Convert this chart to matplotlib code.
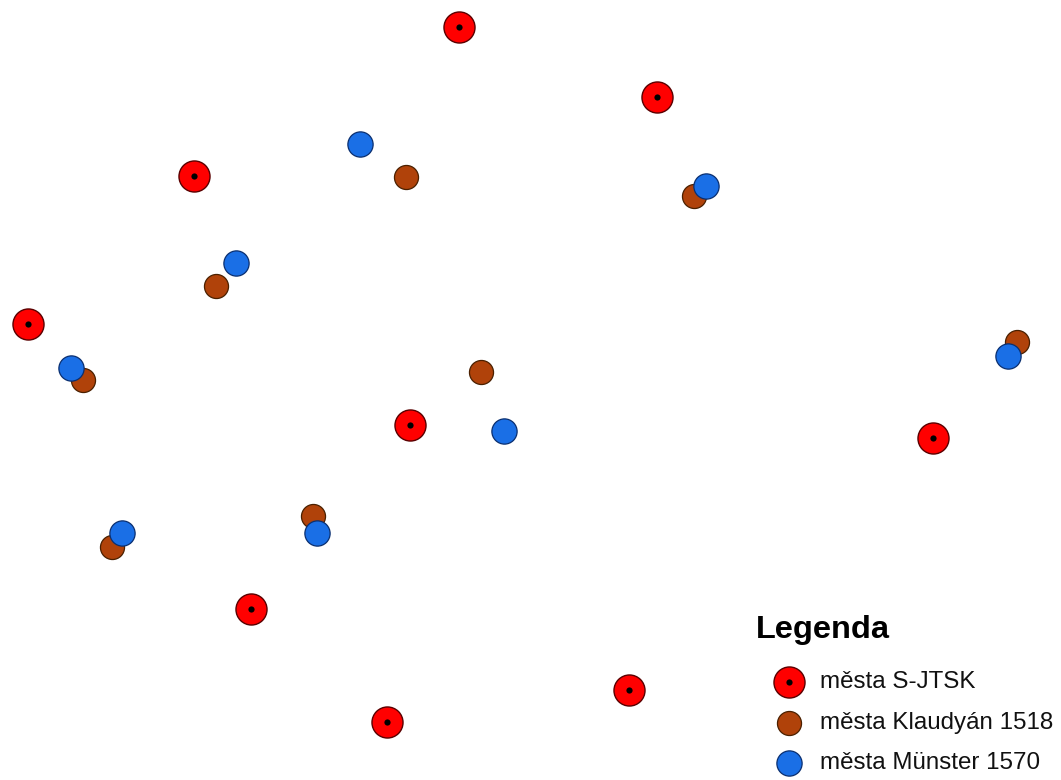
import matplotlib.pyplot as plt

plt.rcParams['font.family'] = ['Liberation Sans', 'DejaVu Sans']

# map coordinates (image-like, y grows downward)
sjtsk_x = [459, 657, 194, 28, 410, 933, 251, 629, 387]
sjtsk_y = [27, 97, 176, 324, 425, 438, 609, 690, 722]

klaudyan_x = [406, 694, 216, 83, 481, 1017, 313, 112]
klaudyan_y = [177, 196, 286, 380, 372, 342, 516, 547]

munster_x = [360, 706, 236, 71, 504, 1008, 317, 122]
munster_y = [144, 186, 263, 368, 431, 356, 533, 533]

labels = ['města S-JTSK', 'města Klaudyán 1518', 'města Münster 1570']

red_style = dict(s=500, c='#ff0000', edgecolors='#5a0000', linewidths=1.0)
dot_style = dict(s=20, c='black', linewidths=0)
brown_style = dict(s=300, c='#b0420a', edgecolors='#4a2000', linewidths=0.9)
blue_style = dict(s=330, c='#1a6fe6', edgecolors='#0a2f70', linewidths=0.9)

fig = plt.figure(figsize=(10.61, 7.80), dpi=100)
ax = fig.add_axes([0, 0, 1, 1])
ax.set_xlim(0, 1061)
ax.set_ylim(780, 0)
ax.axis('off')

ax.scatter(klaudyan_x, klaudyan_y, zorder=2, **brown_style)
ax.scatter(munster_x, munster_y, zorder=3, **blue_style)
ax.scatter(sjtsk_x, sjtsk_y, zorder=4, **red_style)
ax.scatter(sjtsk_x, sjtsk_y, zorder=5, **dot_style)

# legend
ax.text(756, 630, 'Legenda', fontsize=23.4, fontweight='bold', va='center', ha='left')
leg_y = [682, 723, 763]
ax.scatter([789], [leg_y[0]], zorder=4, **red_style)
ax.scatter([789], [leg_y[0]], zorder=5, **dot_style)
ax.scatter([789], [leg_y[1]], zorder=4, **brown_style)
ax.scatter([789], [leg_y[2]], zorder=4, **blue_style)
for yy, lab in zip(leg_y, labels):
    ax.text(820, yy, lab, fontsize=17.4, va='center', ha='left', color='#111111')

fig.savefig('out.png', dpi=100)
